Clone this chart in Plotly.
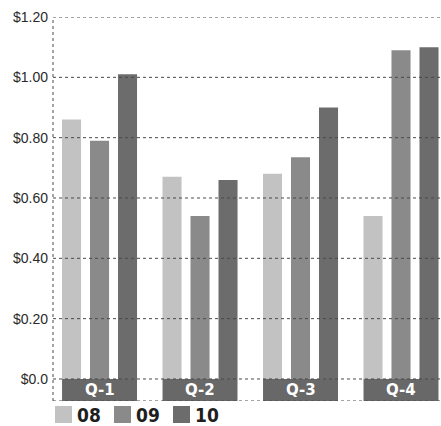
import plotly.graph_objects as go

quarters = ["Q-1", "Q-2", "Q-3", "Q-4"]
years = ["08", "09", "10"]
values_08 = [0.86, 0.67, 0.68, 0.54]
values_09 = [0.79, 0.54, 0.735, 1.09]
values_10 = [1.01, 0.66, 0.90, 1.10]
tick_vals = [0.0, 0.2, 0.4, 0.6, 0.8, 1.0, 1.2]
tick_text = ["$0.0", "$0.20", "$0.40", "$0.60", "$0.80", "$1.00", "$1.20"]

series = [values_08, values_09, values_10]
colors = ["#c2c2c2", "#8a8a8a", "#6c6c6c"]

W, H = 441, 426
ML, MR, MT, MB = 53, 0, 17, 25
PW, PH = W - ML - MR, H - MT - MB


def px_x(x):
    return (x - ML) / PW


def px_y(y):
    return (H - MB - y) / PH


fig = go.Figure()
for name, vals, col in zip(years, series, colors):
    fig.add_trace(go.Bar(
        x=list(range(len(quarters))), y=vals, name=name,
        marker=dict(color=col, line=dict(width=0)),
        showlegend=False,
    ))

y_bottom = -0.073
band_half = 0.373

# dark label bands under each quarter group
for i, q in enumerate(quarters):
    fig.add_shape(type="rect", xref="x", yref="y",
                  x0=i - band_half, x1=i + band_half, y0=y_bottom, y1=0,
                  fillcolor="#686868", line=dict(width=0), layer="below")
    fig.add_annotation(x=i, y=y_bottom / 2, xref="x", yref="y", text=q,
                       showarrow=False,
                       font=dict(family="DejaVu Sans", size=15, color="white",
                                 weight="bold"))

# dotted gridlines, plus the bottom edge of the label band
for v in tick_vals + [y_bottom]:
    fig.add_shape(type="line", xref="paper", yref="y", x0=0, x1=1, y0=v, y1=v,
                  line=dict(color="#4a4a4a", width=1, dash="dot"), layer="above")
fig.add_shape(type="line", xref="paper", yref="paper", x0=0, x1=0, y0=0, y1=1,
              line=dict(color="#4a4a4a", width=1, dash="dot"), layer="above")

# legend: swatch squares with bold condensed labels
legend_x = [55, 114, 173]
for name, col, lx in zip(years, colors, legend_x):
    fig.add_shape(type="rect", xref="paper", yref="paper",
                  x0=px_x(lx), x1=px_x(lx + 17), y0=px_y(406), y1=px_y(423),
                  fillcolor=col, line=dict(width=0))
    fig.add_annotation(x=px_x(lx + 20), y=px_y(415), xref="paper", yref="paper",
                       text=name, showarrow=False, xanchor="left", yanchor="middle",
                       font=dict(family="DejaVu Sans Condensed", size=19,
                                 color="#1e1e1e", weight="bold"))

fig.update_layout(
    width=W, height=H,
    margin=dict(l=ML, r=MR, t=MT, b=MB),
    paper_bgcolor="white", plot_bgcolor="white",
    barmode="group", bargap=0.164, bargroupgap=0.32,
    showlegend=False,
    xaxis=dict(range=[-0.463, 3.398], showticklabels=False, showgrid=False,
               zeroline=False, showline=False),
    yaxis=dict(range=[y_bottom, 1.2], tickvals=tick_vals, ticktext=tick_text,
               showgrid=False, zeroline=False, showline=False,
               ticks="", ticklabelstandoff=4,
               tickfont=dict(family="Liberation Sans, Arial", size=14, color="#2a2a2a")),
)

fig.write_html("out.html")
